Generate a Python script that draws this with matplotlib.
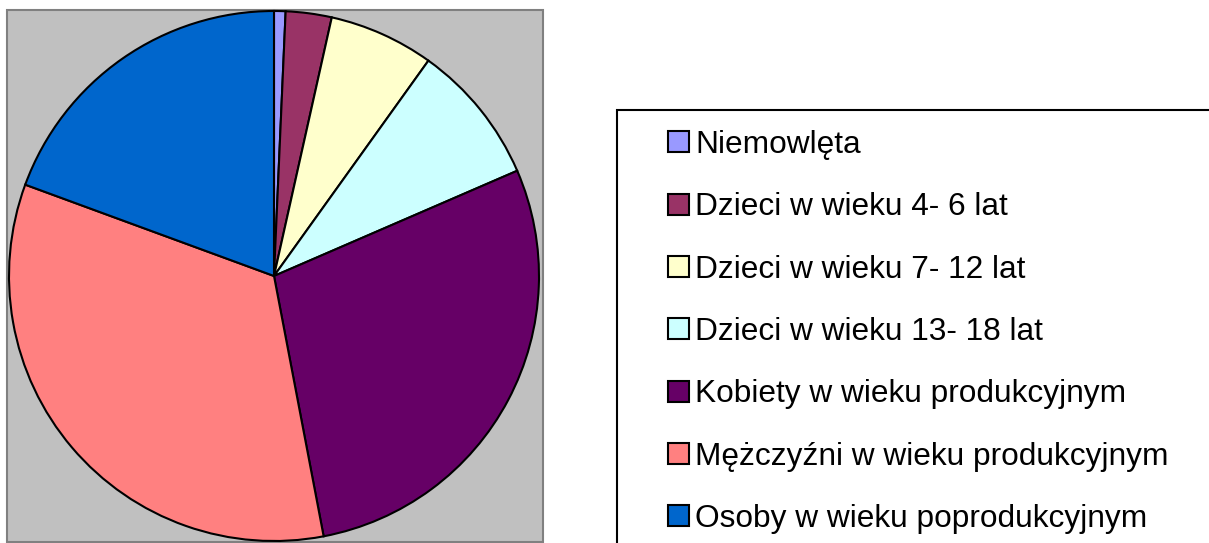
import matplotlib.pyplot as plt
from matplotlib.patches import Rectangle

plt.rcParams['font.family'] = ['Liberation Sans', 'DejaVu Sans']

labels = ['Niemowlęta', 'Dzieci w wieku 4- 6 lat', 'Dzieci w wieku 7- 12 lat',
          'Dzieci w wieku 13- 18 lat', 'Kobiety w wieku produkcyjnym',
          'Mężczyźni w wieku produkcyjnym', 'Osoby w wieku poprodukcyjnym']
values = [0.7, 2.8, 6.4, 8.6, 28.5, 33.6, 19.4]
colors = ['#9999FF', '#993366', '#FFFFCC', '#CCFFFF', '#660066', '#FF8080', '#0066CC']

W, H = 1209, 543
fig = plt.figure(figsize=(W / 100, H / 100), dpi=100)

# grey plot area behind the pie
fig.patches.append(Rectangle((7 / W, 1 / H), 536 / W, 1 - 11 / H,
                             transform=fig.transFigure, facecolor='#C0C0C0',
                             edgecolor='#808080', linewidth=1.5, zorder=0))
# legend frame
fig.patches.append(Rectangle((617 / W, -0.05), 0.6, 1 - 110 / H + 0.05,
                             transform=fig.transFigure, facecolor='white',
                             edgecolor='black', linewidth=1.5, zorder=0))

cx, cy, r = 274, 276, 265
ax = fig.add_axes([(cx - r) / W, (H - cy - r) / H, 2 * r / W, 2 * r / H])
ax.set_zorder(2)
wedges, _ = ax.pie(values, colors=colors, startangle=90, counterclock=False,
                   wedgeprops=dict(edgecolor='black', linewidth=1.5))
ax.set_xlim(-1, 1)
ax.set_ylim(-1, 1)
ax.set_aspect('equal')
ax.axis('off')

leg = fig.legend(wedges, labels, loc='upper left',
                 bbox_to_anchor=(668 / W, 1 - 130 / H), frameon=False,
                 fontsize=22.8, borderpad=0, borderaxespad=0,
                 handlelength=0.65, handleheight=0.65, handletextpad=0.2,
                 labelspacing=1.02)
leg.set_zorder(3)
for h in leg.legend_handles:
    h.set_linewidth(1.5)

fig.savefig('out.png', dpi=100)
